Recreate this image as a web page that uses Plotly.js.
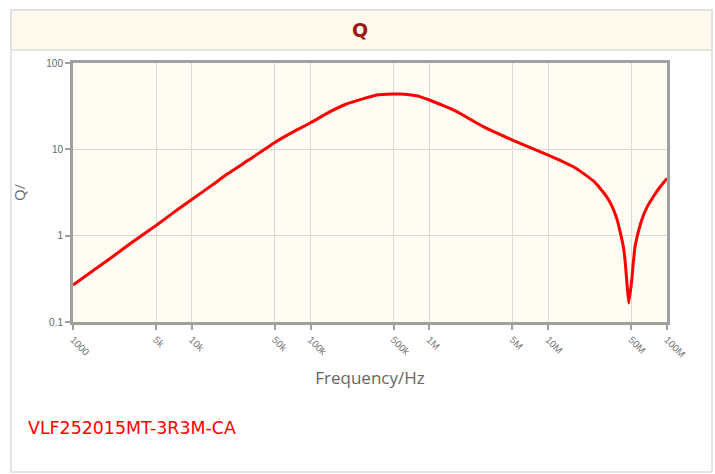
<!DOCTYPE html>
<html>
<head>
<meta charset="utf-8">
<script src="https://cdn.plot.ly/plotly-3.0.1.min.js"></script>
<style>
html,body{margin:0;padding:0;background:#fff;}
#chart{width:715px;height:474px;}
</style>
</head>
<body>
<div id="chart"></div>
<script>
// Frequency (Hz) and Q values
const freqHz = [1000, 1500, 2000, 3000, 5000, 7000, 10000, 15000, 20000, 30000,
  50000, 70000, 100000, 146000, 200000, 244000, 300000, 360000, 500000, 566000,
  700000, 782000, 1000000, 1300000, 1700000, 2840000, 5000000, 10000000, 16300000, 19600000,
  24000000, 27300000, 31100000, 34400000, 37700000, 40200000, 42900000, 44500000, 45800000, 47600000,
  50500000, 51800000, 53800000, 57000000, 61300000, 67900000, 76700000, 87300000, 100000000];
const qValues = [0.268, 0.40, 0.53, 0.80, 1.31, 1.85, 2.62, 3.9, 5.2, 7.5,
  12.0, 15.7, 20.3, 27.3, 33.5, 36.6, 39.8, 42.6, 43.7, 43.7,
  42.6, 41.8, 37.3, 32.2, 27.3, 18.3, 12.8, 8.59, 6.28, 5.30,
  4.30, 3.55, 2.82, 2.20, 1.59, 1.13, 0.743, 0.494, 0.306, 0.166,
  0.306, 0.456, 0.743, 1.07, 1.52, 2.14, 2.82, 3.66, 4.61];

const xTickVals = [1000, 5000, 10000, 50000, 100000, 500000, 1000000, 5000000, 10000000, 50000000, 100000000];
const xTickText = ['1000', '5k', '10k', '50k', '100k', '500k', '1M', '5M', '10M', '50M', '100M'];
const yTickVals = [0.1, 1, 10, 100];
const yTickText = ['0.1', '1', '10', '100'];

const chartTitle = 'Q';
const xTitle = 'Frequency/Hz';
const yTitle = 'Q/';
const seriesName = 'VLF252015MT-3R3M-CA';

// pixel -> paper helpers for decorations outside the plot area
const L = 73, R = 48, T = 63, B = 152, W = 715, H = 474;
const pw = W - L - R, ph = H - T - B;
const px = v => (v - L) / pw;
const py = v => (H - B - v) / ph;

const trace = {
  x: freqHz,
  y: qValues,
  type: 'scatter',
  mode: 'lines',
  line: {color: '#ff0000', width: 3, shape: 'spline', smoothing: 0.4},
  hoverinfo: 'x+y',
  showlegend: false
};

const layout = {
  width: W, height: H,
  margin: {l: L, r: R, t: T, b: B, pad: 0},
  paper_bgcolor: 'rgba(0,0,0,0)',
  plot_bgcolor: '#fffcf3',
  font: {family: 'Liberation Sans, Arial, sans-serif', color: '#666'},
  xaxis: {
    type: 'log',
    range: [3, 8],
    tickvals: xTickVals,
    ticktext: xTickText,
    tickangle: 45,
    tickfont: {size: 10, color: '#777'},
    ticks: 'outside', ticklen: 5, tickwidth: 2, tickcolor: '#a0a0a0',
    showgrid: true, gridcolor: '#d9d9d9', gridwidth: 1,
    showline: true, linecolor: '#a0a0a0', linewidth: 3, mirror: true,
    zeroline: false,
    title: {text: xTitle, font: {family: 'Open Sans, sans-serif', size: 17, color: '#666'}, standoff: 14}
  },
  yaxis: {
    type: 'log',
    range: [-1, 2],
    tickvals: yTickVals,
    ticktext: yTickText,
    tickfont: {size: 10, color: '#666'},
    ticks: 'outside', ticklen: 5, tickwidth: 2, tickcolor: '#a0a0a0',
    showgrid: true, gridcolor: '#d9d9d9', gridwidth: 1,
    showline: true, linecolor: '#a0a0a0', linewidth: 3, mirror: true,
    zeroline: false,
    title: {text: yTitle, font: {family: 'Open Sans, sans-serif', size: 15, color: '#666'}, standoff: 18}
  },
  shapes: [
    // outer panel
    {type: 'rect', xref: 'paper', yref: 'paper', layer: 'below',
     x0: px(11), x1: px(712), y0: py(472), y1: py(10),
     line: {color: '#dddddd', width: 1.5}, fillcolor: 'rgba(0,0,0,0)'},
    // header band
    {type: 'rect', xref: 'paper', yref: 'paper', layer: 'below',
     x0: px(11), x1: px(712), y0: py(50), y1: py(10),
     line: {color: '#dddddd', width: 1.5}, fillcolor: '#fef9ec'}
  ],
  annotations: [
    {text: '<b>' + chartTitle + '</b>', xref: 'paper', yref: 'paper',
     x: px(360), y: py(30), xanchor: 'center', yanchor: 'middle', showarrow: false,
     font: {family: 'DejaVu Sans, sans-serif', size: 19, color: '#9b1b1b'}},
    {text: seriesName, xref: 'paper', yref: 'paper',
     x: px(26), y: py(428), xanchor: 'left', yanchor: 'middle', showarrow: false,
     font: {family: 'DejaVu Sans, sans-serif', size: 17.4, color: '#ff0000'}}
  ]
};

Plotly.newPlot('chart', [trace], layout, {displayModeBar: false, staticPlot: true});
</script>
</body>
</html>
